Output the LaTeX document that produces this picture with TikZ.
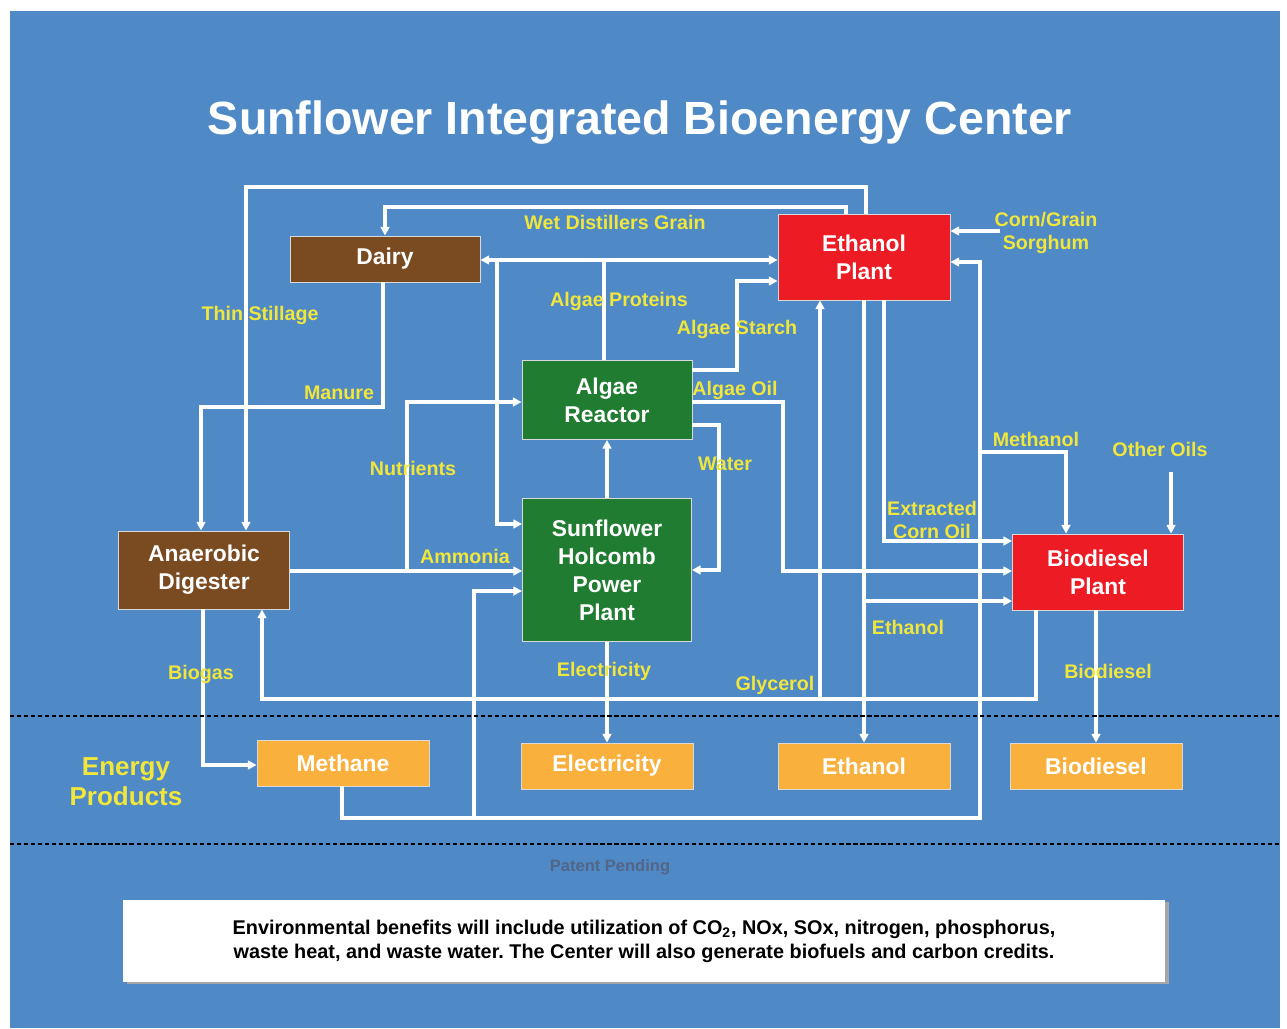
\documentclass[tikz,border=0pt]{standalone}
\usepackage{fontspec}
\setmainfont{Liberation Sans}
\usepackage{tikz}
\usetikzlibrary{arrows.meta}

\definecolor{bgblue}{RGB}{79,137,198}
\definecolor{dairybrown}{RGB}{122,74,32}
\definecolor{plantred}{RGB}{237,28,36}
\definecolor{algaegreen}{RGB}{31,124,49}
\definecolor{prodorange}{RGB}{249,176,61}
\definecolor{lblyellow}{RGB}{240,230,60}
\definecolor{patentgray}{RGB}{82,102,136}

\begin{document}
\frenchspacing
\begin{tikzpicture}[x=0.02cm, y=-0.02cm,
  box/.style={draw=white!70!gray, line width=0.5pt, text=white, align=center, inner sep=0pt,
    font=\fontsize{13}{16}\selectfont\bfseries},
  prodbox/.style={box, fill=prodorange, minimum width=3.44cm, minimum height=0.92cm},
  flow/.style={draw=white, line width=1.9pt, -{Triangle[length=5pt,width=5pt]}},
  wire/.style={draw=white, line width=1.9pt},
  lbl/.style={text=lblyellow, inner sep=0pt, align=center,
    font=\fontsize{11.2}{13}\selectfont\bfseries},
  sepline/.style={draw=black, line width=1.5pt, dash pattern=on 2.4pt off 1.6pt}]
\useasboundingbox (0,0) rectangle (1287,1028);
% background
\fill[white] (0,0) rectangle (1287,1028);
\fill[bgblue] (10,11) rectangle (1280,1028);

% title
\node[text=white, font=\fontsize{26.5}{30}\selectfont\bfseries] (title) at (640,123)
  {Sunflower Integrated Bioenergy Center};

% process boxes
\node[box, fill=dairybrown, minimum width=3.8cm, minimum height=0.92cm] (dairy) at (385,259) {Dairy};
\node[box, fill=plantred, minimum width=3.44cm, minimum height=1.72cm] (eth) at (864,257) {Ethanol\\Plant};
\node[box, fill=algaegreen, minimum width=3.4cm, minimum height=1.58cm] (alg) at (607,400) {Algae\\Reactor};
\node[box, fill=algaegreen, minimum width=3.38cm, minimum height=2.86cm] (shpp) at (607,570) {Sunflower\\Holcomb\\Power\\Plant};
\node[box, fill=dairybrown, minimum width=3.42cm, minimum height=1.56cm] (ad) at (204,570) {Anaerobic\\Digester};
\node[box, fill=plantred, minimum width=3.42cm, minimum height=1.52cm] (bio) at (1098,572) {Biodiesel\\Plant};

% energy products
\node[prodbox] (methane) at (343,763) {Methane};
\node[prodbox] (elec) at (607,766) {Electricity};
\node[prodbox] (ethp) at (864,766) {Ethanol};
\node[prodbox] (biop) at (1096,766) {Biodiesel};

% routing points
\coordinate (tsA) at (866,187);
\coordinate (tsB) at (246,187);
\coordinate (wdA) at (846,207);
\coordinate (apA) at (604,260);
\coordinate (apB) at (497,260);
\coordinate (apC) at (497,524);
\coordinate (asA) at (737,370);
\coordinate (asB) at (737,281);
\coordinate (aoA) at (783,402);
\coordinate (aoB) at (783,571);
\coordinate (wA) at (719,425);
\coordinate (wB) at (719,570);
\coordinate (amA) at (407,571);
\coordinate (nuB) at (407,402);
\coordinate (mnA) at (383,407);
\coordinate (mnB) at (201,407);
\coordinate (meA) at (342,818);
\coordinate (meB) at (980,818);
\coordinate (meC) at (980,262);
\coordinate (meD) at (474,818);
\coordinate (meE) at (474,591);
\coordinate (mlA) at (980,452);
\coordinate (mlB) at (1066,452);
\coordinate (ooA) at (1171,472);
\coordinate (cgA) at (1000,231);
\coordinate (glA) at (1036,699);
\coordinate (glB) at (262,699);
\coordinate (glC) at (820,699);
\coordinate (etA) at (864,601);
\coordinate (ecA) at (884,541);
\coordinate (bgA) at (203,765);

% connectors
\draw[flow] (eth.north -| tsA) -- (tsA) -- (tsB) -- (ad.north -| tsB);
\draw[flow] (eth.north -| wdA) -- (wdA) -| (dairy.north);
\draw[wire] (alg.north -| apA) -- (apA);
\draw[flow, {Triangle[length=5pt,width=5pt]}-{Triangle[length=5pt,width=5pt]}]
  (dairy.east |- apA) -- (eth.west |- apA);
\draw[flow] (apB) -- (apC) -- (shpp.west |- apC);
\draw[flow] (alg.east |- asA) -- (asA) -- (asB) -- (eth.west |- asB);
\draw[flow] (alg.east |- aoA) -- (aoA) -- (aoB) -- (bio.west |- aoB);
\draw[flow] (alg.east |- wA) -- (wA) -- (wB) -- (shpp.east |- wB);
\draw[flow] (shpp.north) -- (alg.south);
\draw[flow] (ad.east |- amA) -- (shpp.west |- amA);
\draw[flow] (amA) -- (nuB) -- (alg.west |- nuB);
\draw[flow] (dairy.south -| mnA) -- (mnA) -- (mnB) -- (ad.north -| mnB);
\draw[flow] (methane.south -| meA) -- (meA) -- (meB) -- (meC) -- (eth.east |- meC);
\draw[flow] (meD) -- (meE) -- (shpp.west |- meE);
\draw[flow] (mlA) -- (mlB) -- (bio.north -| mlB);
\draw[flow] (ooA) -- (bio.north -| ooA);
\draw[flow] (cgA) -- (eth.east |- cgA);
\draw[flow] (bio.south -| glA) -- (glA) -- (glB) -- (ad.south -| glB);
\draw[flow] (glC) -- (eth.south -| glC);
\draw[flow] (eth.south) -- (ethp.north);
\draw[flow] (etA) -- (bio.west |- etA);
\draw[flow] (eth.south -| ecA) -- (ecA) -- (bio.west |- ecA);
\draw[flow] (bio.south -| biop.north) -- (biop.north);
\draw[flow] (shpp.south) -- (elec.north);
\draw[flow] (ad.south -| bgA) -- (bgA) -- (methane.west |- bgA);

% flow labels
\node[lbl] (lts) at (260,315) {Thin Stillage};
\node[lbl] (lwd) at (615,222) {Wet Distillers Grain};
\node[lbl] (lap) at (619,301) {Algae Proteins};
\node[lbl] (las) at (737,329) {Algae Starch};
\node[lbl] (lao) at (735,390) {Algae Oil};
\node[lbl] (lmn) at (339,393) {Manure};
\node[lbl] (lwa) at (725,464) {Water};
\node[lbl] (lnu) at (413,468) {Nutrients};
\node[lbl] (lam) at (465,556) {Ammonia};
\node[lbl] (lml) at (1036,439) {Methanol};
\node[lbl] (loo) at (1160,449) {Other Oils};
\node[lbl] (lec) at (932,520) {Extracted\\Corn Oil};
\node[lbl] (lcg) at (1046,233) {Corn/Grain\\Sorghum};
\node[lbl] (let) at (908,627) {Ethanol};
\node[lbl] (lbd) at (1108,671) {Biodiesel};
\node[lbl] (lel) at (604,671) {Electricity};
\node[lbl] (lgl) at (775,685) {Glycerol};
\node[lbl] (lbg) at (201,674) {Biogas};

% separators
\draw[sepline] (10,716) -- (1280,716);
\draw[sepline] (10,844) -- (1280,844);

\node[lbl, font=\fontsize{14.8}{17}\selectfont\bfseries] (energy) at (126,782) {Energy\\Products};

% footer
\node[text=patentgray, font=\fontsize{9.4}{11}\selectfont\bfseries] (patent) at (610,867) {Patent Pending};
\fill[gray!70] (127,902) rectangle (1169,984);
\node[fill=white, minimum width=20.84cm, minimum height=1.64cm, inner sep=0pt, align=center,
  font=\fontsize{11.3}{13.6}\selectfont\bfseries] (note) at (644,941)
  {Environmental benefits will include utilization of CO\textsubscript{2}, NOx, SOx, nitrogen, phosphorus,\\
   waste heat, and waste water. The Center will also generate biofuels and carbon credits.};
\end{tikzpicture}
\end{document}
